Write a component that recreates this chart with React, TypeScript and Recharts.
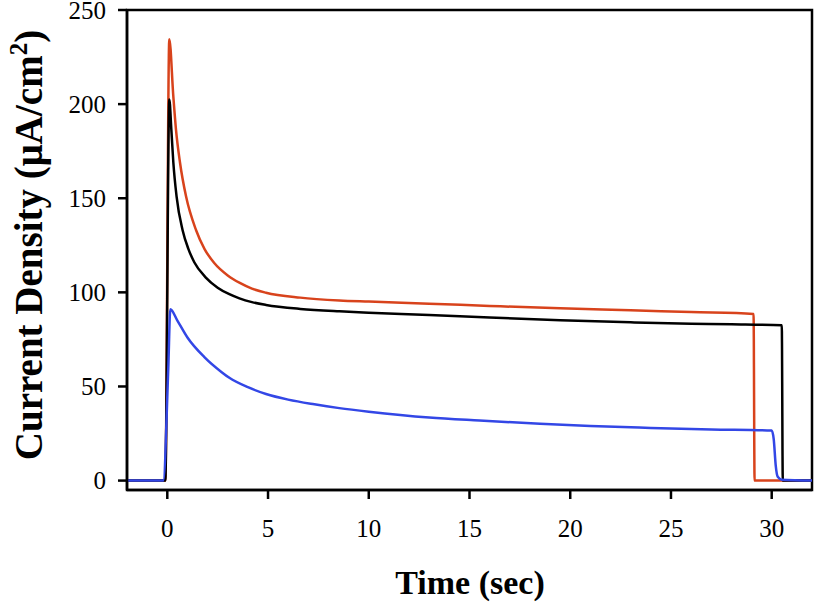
import React from 'react';
import { LineChart, Line, XAxis, YAxis, ReferenceArea, Label } from 'recharts';

const xTicks = [0, 5, 10, 15, 20, 25, 30];
const yTicks = [0, 50, 100, 150, 200, 250];

const blackTime = [-2, -0.1, 0.1, 0.2, 0.3, 0.46, 0.76, 1.05, 1.34, 1.9, 2.5, 3.08, 3.58, 4.2, 4.9, 6.6, 8.54, 10, 13, 16, 19.5, 23, 26, 28, 30.5, 30.55, 32];
const blackValues = [0, 0, 202.5, 186.6, 169, 151, 133, 123, 116, 108, 102.5, 99, 96.8, 94.8, 93.3, 91.2, 89.9, 89.2, 88, 86.6, 85.2, 84.1, 83.3, 83, 82.5, 0, 0];

const redTime = [-2, -0.1, 0.1, 0.3, 0.43, 0.63, 0.93, 1.43, 1.85, 2.33, 3.0, 3.6, 4.2, 4.9, 6.6, 8.54, 10, 13, 16, 19.5, 23, 26, 29.1, 29.15, 32];
const redValues = [0, 0, 234.5, 204, 186.6, 169, 151, 133, 123, 115.6, 109, 105, 102, 99.8, 97.2, 95.7, 95.1, 94, 92.8, 91.5, 90.5, 89.5, 88.5, 0, 0];

const blueTime = [-2, -0.2, 0.05, 0.15, 0.5, 1, 1.84, 2.7, 3.08, 4, 4.9, 6, 7.3, 8.54, 10, 13, 15.5, 18.5, 21, 24, 27, 30.0, 30.1, 30.2, 30.3, 30.5, 32];
const blueValues = [0, 0, 60, 91, 85, 76, 65.6, 57.6, 54.6, 49.6, 46, 43, 40.5, 38.5, 36.6, 33.5, 31.9, 30.2, 29, 28, 27.2, 26.6, 22, 8, 2, 0.5, 0];

const toData = (ts: number[], vs: number[]) => ts.map((t, i) => ({ t, v: vs[i] }));
const blackData = toData(blackTime, blackValues);
const redData = toData(redTime, redValues);
const blueData = toData(blueTime, blueValues);

const FONT = '"Liberation Serif", "Times New Roman", Times, serif';

const XTick = (props: any) => {
  const { x, y, payload } = props;
  return (
    <text x={x} y={y} dy="0.71em" textAnchor="middle" fill="#000" fontSize={25} fontFamily={FONT} style={{ fontFamily: FONT }}>
      {payload.value}
    </text>
  );
};

const YTick = (props: any) => {
  const { x, y, payload } = props;
  return (
    <text x={x} y={y} dy="0.355em" textAnchor="end" fill="#000" fontSize={25} fontFamily={FONT} style={{ fontFamily: FONT }}>
      {payload.value}
    </text>
  );
};

export default function App() {
  return (
    <div style={{ position: 'absolute', left: 0, top: 0 }}>
      <LineChart width={815} height={605} margin={{ top: 10, right: 3, left: 0, bottom: 0 }}>
        <ReferenceArea x1={-2} x2={32} y1={-5} y2={250} fill="none" stroke="#000" strokeWidth={2.5} ifOverflow="visible" />
        <XAxis
          dataKey="t"
          type="number"
          domain={[-2, 32]}
          ticks={xTicks}
          allowDuplicatedCategory={false}
          height={115}
          tickSize={9}
          tickMargin={20}
          stroke="#000"
          strokeWidth={2.5}
          tick={<XTick />}
        >
          <Label
            content={() => (
              <text x={470} y={594} textAnchor="middle" fontFamily={FONT} style={{ fontFamily: FONT }} fontWeight="bold" fontSize={34} fill="#000">
                Time (sec)
              </text>
            )}
          />
        </XAxis>
        <YAxis
          dataKey="v"
          type="number"
          domain={[-5, 250]}
          ticks={yTicks}
          width={127}
          tickSize={9}
          tickMargin={12}
          stroke="#000"
          strokeWidth={2.5}
          tick={<YTick />}
        >
          <Label
            content={() => (
              <text
                x={0}
                y={0}
                transform="translate(42, 245) rotate(-90)"
                textAnchor="middle"
                fontFamily={FONT}
                style={{ fontFamily: FONT }}
                fontWeight="bold"
                fontSize={39}
                fill="#000"
              >
                Current Density (μA/cm
                <tspan dy={-15} fontSize={25}>2</tspan>
                <tspan dy={15}>)</tspan>
              </text>
            )}
          />
        </YAxis>
        <Line data={redData} dataKey="v" type="monotone" stroke="#D8431C" strokeWidth={2.5} dot={false} isAnimationActive={false} />
        <Line data={blackData} dataKey="v" type="monotone" stroke="#000" strokeWidth={2.5} dot={false} isAnimationActive={false} />
        <Line data={blueData} dataKey="v" type="monotone" stroke="#3347E6" strokeWidth={2.5} dot={false} isAnimationActive={false} />
      </LineChart>
    </div>
  );
}
